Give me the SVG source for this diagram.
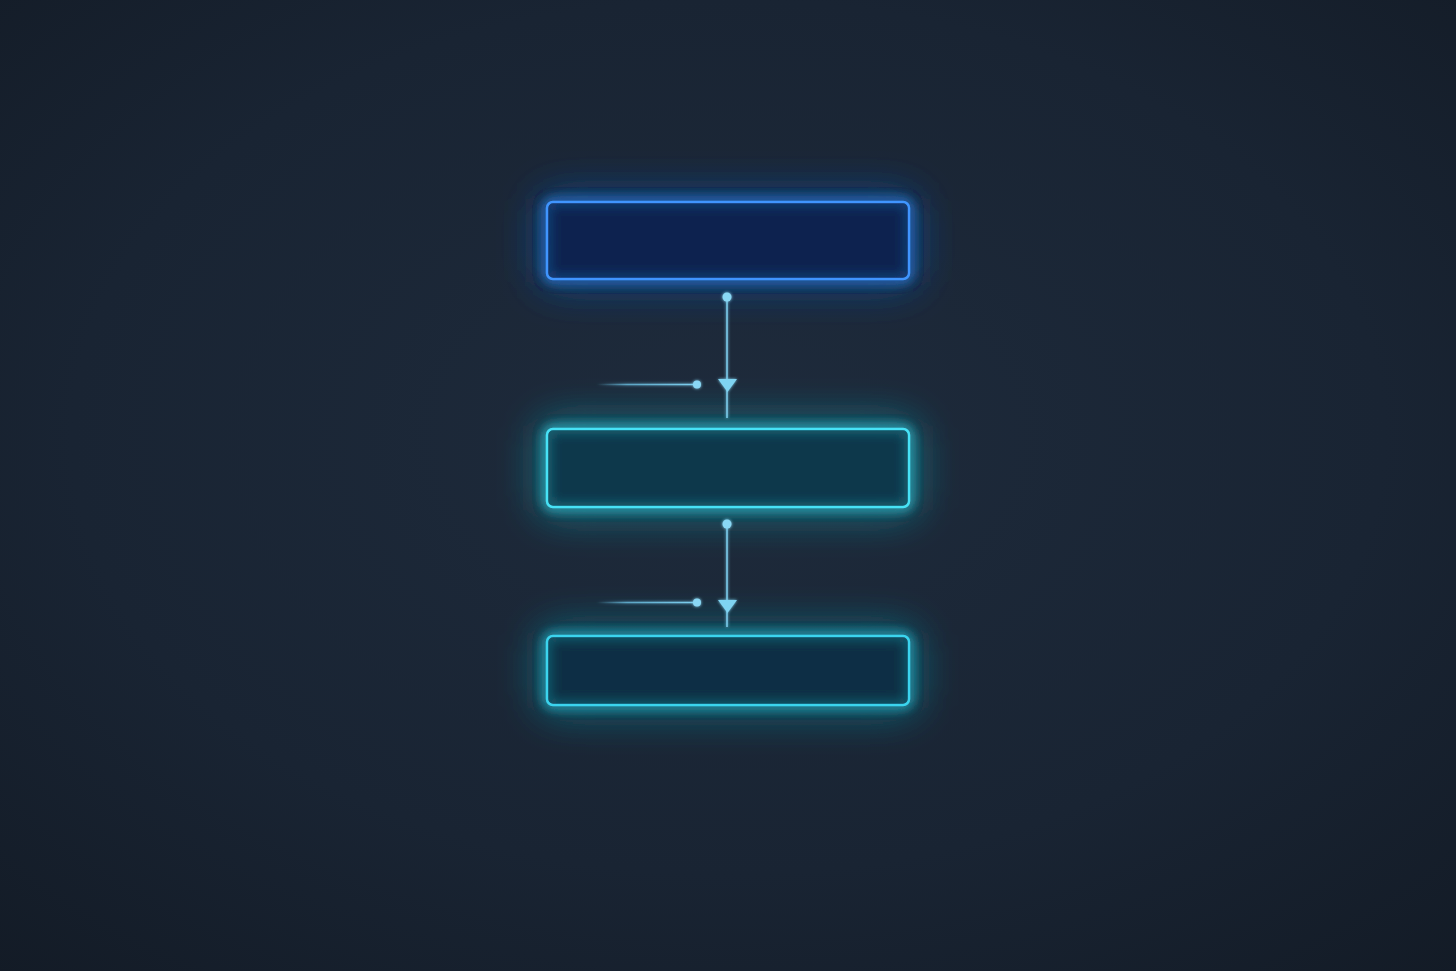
<svg xmlns="http://www.w3.org/2000/svg" width="1456" height="971" viewBox="0 0 1456 971">
<defs>
<radialGradient id="bg" cx="0.5" cy="0.45" r="0.75">
<stop offset="0" stop-color="#1e2b3c"/>
<stop offset="0.6" stop-color="#192433"/>
<stop offset="1" stop-color="#131b26"/>
</radialGradient>
<filter id="glow" x="-40%" y="-120%" width="180%" height="340%">
<feGaussianBlur in="SourceGraphic" stdDeviation="22" result="b1"/>
<feGaussianBlur in="SourceGraphic" stdDeviation="6" result="b2"/>
<feMerge><feMergeNode in="b1"/><feMergeNode in="b1"/><feMergeNode in="b2"/><feMergeNode in="b2"/><feMergeNode in="SourceGraphic"/></feMerge>
</filter>
<filter id="sglow" x="-50%" y="-50%" width="200%" height="200%">
<feGaussianBlur in="SourceGraphic" stdDeviation="1.5" result="b"/>
<feMerge><feMergeNode in="b"/><feMergeNode in="SourceGraphic"/></feMerge>
</filter>
<linearGradient id="lfade" gradientUnits="userSpaceOnUse" x1="597" y1="0" x2="697" y2="0">
<stop offset="0" stop-color="#6fc6ea" stop-opacity="0"/>
<stop offset="0.3" stop-color="#6fc6ea" stop-opacity="0.7"/>
<stop offset="1" stop-color="#7fd0f0"/>
</linearGradient>
<style>
.conn{stroke:#7fd0f0;stroke-width:1.5;fill:none}
.dot{fill:#8ad8f5}
.arrow{fill:#7fd4f2}
</style>
</defs>
<rect width="1456" height="971" fill="url(#bg)"/>
<g id="node1" filter="url(#glow)">
<rect x="547" y="202" width="362" height="77" rx="6" fill="#0c2450" fill-opacity="0.7" stroke="#3f95ff" stroke-width="2.5"/>
</g>
<g id="node2" filter="url(#glow)">
<rect x="547" y="429" width="362" height="78" rx="6" fill="#0b364c" fill-opacity="0.7" stroke="#46e2f6" stroke-width="2.5"/>
</g>
<g id="node3" filter="url(#glow)">
<rect x="547" y="636" width="362" height="69" rx="6" fill="#0c2f45" fill-opacity="0.7" stroke="#3ad4ee" stroke-width="2.5"/>
</g>
<g id="connectors" filter="url(#sglow)">
<line class="conn" x1="727" y1="297" x2="727" y2="418"/>
<circle class="dot" cx="727" cy="297" r="4.5"/>
<polygon class="arrow" points="718,379 737,379 727.5,392"/>
<line x1="597" y1="384.5" x2="697" y2="384.5" stroke="url(#lfade)" stroke-width="1.5"/>
<circle class="dot" cx="697" cy="384.5" r="4"/>
<line class="conn" x1="727" y1="524" x2="727" y2="627"/>
<circle class="dot" cx="727" cy="524" r="4.5"/>
<polygon class="arrow" points="718,600 737,600 727.5,613"/>
<line x1="597" y1="602.5" x2="697" y2="602.5" stroke="url(#lfade)" stroke-width="1.5"/>
<circle class="dot" cx="697" cy="602.5" r="4"/>
</g>
</svg>
